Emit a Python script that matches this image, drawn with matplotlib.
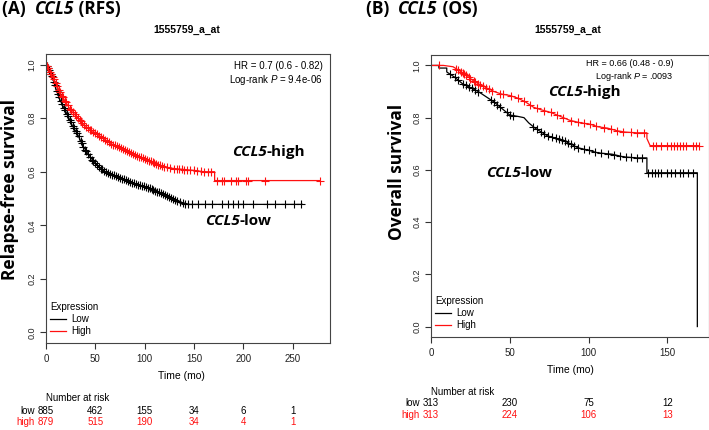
import numpy as np
import matplotlib
matplotlib.use("Agg")
import matplotlib.pyplot as plt

plt.rcParams['font.family'] = ['Liberation Sans', 'DejaVu Sans']
plt.rcParams['mathtext.fontset'] = 'custom'
plt.rcParams['mathtext.rm'] = 'Liberation Sans'
plt.rcParams['mathtext.it'] = 'Liberation Sans:italic'

RED = '#ff1010'
HEAD = 'Open Sans'

# ---- Panel A: relapse-free survival ----
rfs_low_t = [0, 3, 7, 10, 14, 18, 22, 27, 32, 37, 42, 47, 53, 60, 70, 80, 90,
             100, 110, 120, 130, 140, 146, 260]
rfs_low_s = [1.0, 0.98, 0.95, 0.91, 0.87, 0.84, 0.81, 0.77, 0.74, 0.70, 0.67,
             0.645, 0.62, 0.60, 0.585, 0.57, 0.555, 0.545, 0.53, 0.515, 0.495,
             0.48, 0.478, 0.478]
rfs_high_t = [0, 3, 6, 10, 15, 20, 25, 30, 36, 42, 50, 58, 66, 75, 85, 95, 105,
              115, 125, 135, 150, 160, 171, 171, 278]
rfs_high_s = [1.0, 0.98, 0.96, 0.93, 0.89, 0.86, 0.83, 0.81, 0.785, 0.765,
              0.745, 0.725, 0.705, 0.69, 0.67, 0.655, 0.64, 0.625, 0.614, 0.61,
              0.605, 0.60, 0.60, 0.567, 0.567]
rfs_low_cens = [1, 2, 3, 5, 6, 8, 9, 11, 12, 13, 15, 16, 18, 19, 21, 22, 24, 25,
                27, 28, 30, 31, 33, 35, 36, 38, 40, 41, 43, 45, 47, 48, 50, 52,
                54, 56, 57, 59, 61, 63, 65, 67, 69, 71, 73, 75, 77, 79, 81, 83,
                85, 87, 89, 91, 93, 95, 97, 99, 101, 103, 105, 107, 109, 111,
                113, 115, 117, 119, 121, 123, 125, 127, 129, 131, 133, 136, 139,
                141, 144, 148, 154, 161, 168, 178, 185, 190, 195, 200, 210, 224,
                232, 242, 251, 259]
rfs_high_cens = [1, 2, 4, 5, 7, 8, 10, 11, 13, 14, 16, 17, 19, 20, 22, 24, 25,
                 27, 29, 30, 32, 34, 35, 37, 39, 41, 43, 45, 46, 48, 50, 52, 54,
                 56, 58, 60, 62, 64, 66, 68, 70, 72, 74, 76, 78, 80, 82, 84, 86,
                 88, 90, 92, 94, 96, 98, 100, 102, 104, 106, 108, 110, 112, 114,
                 116, 118, 120, 123, 126, 130, 133, 135, 138, 140, 143, 146, 150,
                 153, 157, 160, 164, 167, 173, 178, 181, 188, 193, 195, 203, 205,
                 222, 278]
rfs_ticks = [0, 50, 100, 150, 200, 250]
rfs_risk_low = [885, 462, 155, 34, 6, 1]
rfs_risk_high = [879, 515, 190, 34, 4, 1]

# ---- Panel B: overall survival ----
os_low_t = [0, 5, 5, 10, 10, 15, 18, 20, 25, 30, 35, 40, 45, 50, 55, 59, 62, 66,
            70, 74, 80, 85, 90, 93, 100, 106, 115, 122, 130, 137, 137, 169, 169]
os_low_s = [1.0, 1.0, 0.99, 0.99, 0.975, 0.955, 0.94, 0.93, 0.915, 0.90, 0.88,
            0.86, 0.835, 0.81, 0.805, 0.80, 0.78, 0.76, 0.745, 0.73, 0.72, 0.71,
            0.695, 0.685, 0.675, 0.665, 0.66, 0.65, 0.646, 0.646, 0.589, 0.589,
            0.0]
os_high_t = [0, 8, 14, 18, 22, 26, 30, 35, 40, 45, 50, 55, 60, 65, 70, 76, 82,
             88, 95, 101, 106, 112, 118, 123, 130, 137, 137, 139, 170]
os_high_s = [1.0, 1.0, 0.995, 0.98, 0.965, 0.945, 0.93, 0.915, 0.90, 0.89,
             0.885, 0.875, 0.86, 0.84, 0.83, 0.82, 0.805, 0.79, 0.78, 0.775,
             0.765, 0.76, 0.75, 0.745, 0.742, 0.742, 0.72, 0.693, 0.693]
os_low_cens = [12, 15, 17, 20, 22, 24, 26, 28, 30, 38, 40, 42, 44, 48, 50, 52,
               65, 67, 70, 72, 74, 77, 79, 81, 83, 85, 87, 89, 91, 93, 97, 100,
               104, 108, 112, 116, 120, 124, 127, 131, 134, 138, 140, 142, 144,
               146, 150, 152, 155, 158, 160, 163, 166]
os_high_cens = [5, 16, 17, 19, 20, 21, 22, 24, 25, 27, 28, 30, 31, 33, 35, 37,
                39, 44, 46, 51, 55, 59, 63, 67, 72, 76, 80, 84, 89, 93, 97, 101,
                105, 110, 114, 118, 122, 127, 131, 135, 141, 143, 146, 150, 152,
                154, 156, 158, 160, 162, 166, 168, 170]
os_ticks = [0, 50, 100, 150]
os_risk_low = [313, 230, 75, 12]
os_risk_high = [313, 224, 106, 13]

W, H = 709, 430
fig = plt.figure(figsize=(W / 100, H / 100), dpi=100)


def fx(px):
    return px / W


def fy(py):
    return 1 - py / H


def chain(x, y, parts, size):
    # chain text pieces so the italic gene name sits next to the bold text
    prev = None
    for s, style in parts:
        if prev is None:
            prev = fig.text(fx(x), fy(y), s, fontsize=size, fontweight='bold',
                            style=style, family=HEAD, va='center')
        else:
            prev = fig.add_artist(matplotlib.text.Annotation(
                s, xy=(1, 0), xycoords=prev, fontsize=size, fontweight='bold',
                style=style, family=HEAD, va='bottom', ha='left'))
    return prev


def km_panel(box, xmax, curves, ticks, hr_lines, hr_pos, hr_size):
    ax = fig.add_axes([fx(box[0]), fy(box[3]), fx(box[2] - box[0]),
                       (box[3] - box[1]) / H])
    for t, s, cens, col in curves:
        ax.plot(t, s, color=col, lw=0.9)
        cy = np.interp(cens, t, s)
        ax.plot(cens, cy, ls='none', marker='+', ms=5.5, mew=0.8, color=col)
    ax.set_xlim(0, xmax)
    ax.set_ylim(-0.04, 1.04)
    ax.set_xticks(ticks)
    ax.set_yticks([0, 0.2, 0.4, 0.6, 0.8, 1.0])
    ax.set_yticklabels(['0.0', '0.2', '0.4', '0.6', '0.8', '1.0'],
                       rotation=90, va='center')
    ax.tick_params(axis='both', length=4, width=0.8, colors='#333333',
                   labelcolor='#222222')
    ax.tick_params(axis='x', labelsize=7, pad=4)
    ax.tick_params(axis='y', labelsize=6.5, pad=3)
    for sp in ax.spines.values():
        sp.set_color('#444444')
        sp.set_linewidth(0.8)
    ax.text(hr_pos[0], hr_pos[1], hr_lines, transform=ax.transAxes,
            ha='right', va='top', fontsize=hr_size, linespacing=1.15)
    return ax


axA = km_panel((46, 54, 330, 343), 288,
               [(rfs_low_t, rfs_low_s, rfs_low_cens, 'black'),
                (rfs_high_t, rfs_high_s, rfs_high_cens, RED)],
               rfs_ticks,
               'HR = 0.7 (0.6 - 0.82)\nLog-rank $P$ = 9.4e-06', (0.975, 0.975), 7)
axB = km_panel((431, 55, 709, 337), 176.4,
               [(os_low_t, os_low_s, os_low_cens, 'black'),
                (os_high_t, os_high_s, os_high_cens, RED)],
               os_ticks,
               'HR = 0.66 (0.48 - 0.9)\nLog-rank $P$ = .0093', (0.873, 0.985), 6.5)

for ax in (axA, axB):
    leg_lines = [plt.Line2D([], [], color='black', lw=0.9),
                 plt.Line2D([], [], color=RED, lw=0.9)]
    leg = ax.legend(leg_lines, ['Low', 'High'], title='Expression',
                    loc='lower left', bbox_to_anchor=(-0.01, 0.0), frameon=False,
                    fontsize=7, title_fontsize=7, handlelength=1.6,
                    handletextpad=0.6, labelspacing=0.2, borderaxespad=0.3)
    leg._legend_box.align = 'left'

# titles and axis labels
fig.text(fx(187), fy(30), '1555759_a_at', ha='center', va='center',
         fontsize=7.5, fontweight='bold')
fig.text(fx(568), fy(30), '1555759_a_at', ha='center', va='center',
         fontsize=7.5, fontweight='bold')
fig.text(fx(181), fy(376), 'Time (mo)', ha='center', va='center', fontsize=7.5)
fig.text(fx(570), fy(370), 'Time (mo)', ha='center', va='center', fontsize=7.5)
fig.text(fx(10), fy(190), 'Relapse-free survival', rotation=90, ha='center',
         va='center', fontsize=12.5, fontweight='bold', family=HEAD)
fig.text(fx(397), fy(172), 'Overall survival', rotation=90, ha='center',
         va='center', fontsize=12.5, fontweight='bold', family=HEAD)

# panel headers
chain(2, 9, [('(A)  ', 'normal'), ('CCL5', 'italic'), (' (RFS)', 'normal')], 12.5)
chain(366, 9, [('(B)  ', 'normal'), ('CCL5', 'italic'), (' (OS)', 'normal')], 12.5)

# group labels on the curves
chain(232, 152, [('CCL5', 'italic'), ('-high', 'normal')], 11)
chain(205, 221, [('CCL5', 'italic'), ('-low', 'normal')], 11)
chain(548, 92, [('CCL5', 'italic'), ('-high', 'normal')], 11)
chain(486, 173, [('CCL5', 'italic'), ('-low', 'normal')], 11)

# number at risk tables
for ax, ticks, low, high, ys, lab_x in (
        (axA, rfs_ticks, rfs_risk_low, rfs_risk_high, (398, 411, 422), 35),
        (axB, os_ticks, os_risk_low, os_risk_high, (392, 403, 415), 420)):
    tr = matplotlib.transforms.blended_transform_factory(ax.transData,
                                                         fig.transFigure)
    ax.text(0, fy(ys[0]), 'Number at risk', transform=tr, ha='left',
            va='center', fontsize=7, clip_on=False)
    fig.text(fx(lab_x), fy(ys[1]), 'low', ha='right', va='center', fontsize=7)
    fig.text(fx(lab_x), fy(ys[2]), 'high', ha='right', va='center',
             fontsize=7, color=RED)
    for t, a, b in zip(ticks, low, high):
        ax.text(t, fy(ys[1]), str(a), transform=tr, ha='center', va='center',
                fontsize=7, clip_on=False)
        ax.text(t, fy(ys[2]), str(b), transform=tr, ha='center', va='center',
                fontsize=7, color=RED, clip_on=False)

fig.savefig('out.png', dpi=100)
